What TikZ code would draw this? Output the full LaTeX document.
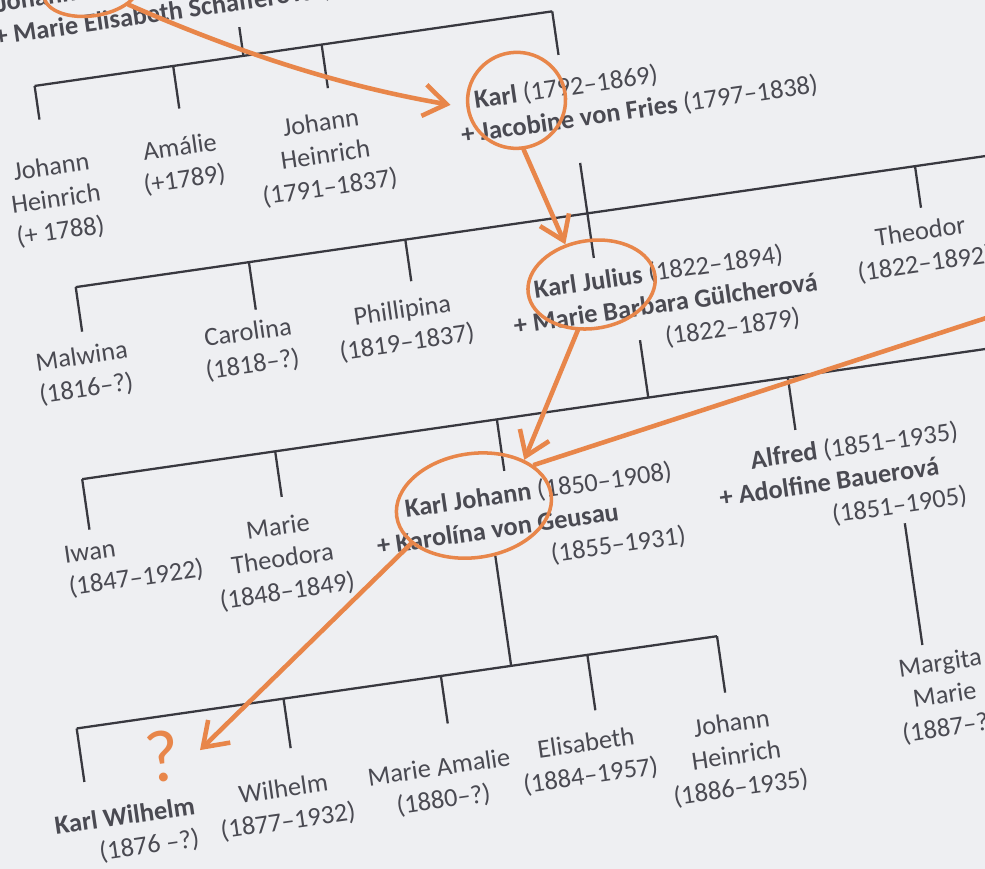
\documentclass[tikz,border=0pt]{standalone}
\usepackage{fontspec}
\setmainfont{Carlito}
\usetikzlibrary{positioning,shapes.geometric,arrows.meta}
\definecolor{paper}{HTML}{EEEFF2}
\definecolor{ink}{HTML}{4A4A52}
\definecolor{barink}{HTML}{38383F}
\definecolor{pen}{HTML}{E8864A}

\tikzset{
  kid/.style={font=\fontsize{15}{18.5}\selectfont, text=ink, align=center, inner sep=0pt, anchor=north},
  couple/.style={kid, align=left, anchor=north west},
  bar/.style={draw=barink, line width=1.3pt},
  loop/.style={ellipse, draw=pen, line width=2pt, inner sep=0pt},
  pencil/.style={draw=pen, line width=2.6pt, line cap=round, -{Straight Barb[length=13pt,width=18pt]}}
}

\begin{document}
\begin{tikzpicture}[x=0.02cm,y=-0.02cm]
\useasboundingbox (0,0) rectangle (985,869);
\fill[paper] (0,0) rectangle (985,869);
\clip (0,0) rectangle (985,869);
\begin{scope}[rotate=8.2, transform shape]
  % generation 1
  \node[couple] (parents) at (-11,-7) {\hspace*{0.16cm}\textbf{Johann Heinrich}\\\textbf{+ Marie Elisabeth Schäfferová} (};
  \node[kid] (jh1) at (27,162) {Johann\\Heinrich\\(+ 1788)};
  \node[kid] (amalie) at (157,161) {Amálie\\(+1789)};
  \node[kid] (jh2) at (300,157) {Johann\\Heinrich\\(1791–1837)};
  \node[couple] (karl) at (437,156) {\hspace*{0.36cm}\textbf{Karl} (1792–1869)\\\textbf{+ Jacobine von Fries} (1797–1838)};
  \coordinate (g1w) at (22,90);
  \coordinate (g1e) at (545,90);
  \coordinate (parents-out) at (233,61);
  \draw[bar] (g1w) -- (g1e);
  \draw[bar] (parents-out) -- (233,90);
  \foreach \n/\u/\d in {jh1/22/124,amalie/162/133,jh2/312/134,karl/545/134}{
    \coordinate (\n-in) at (\u,\d);
    \draw[bar] (\u,90) -- (\n-in);
  }

  % generation 2
  \node[kid] (malwina) at (30,354) {Malwina\\(1816–?)};
  \node[kid] (carolina) at (198,354) {Carolina\\(1818–?)};
  \node[kid] (phillipina) at (354,354) {Phillipina\\(1819–1837)};
  \node[couple] (karljulius) at (462,352) {\hspace*{0.5cm}\textbf{Karl Julius} (1822–1894)\\\textbf{+ Marie Barbara Gülcherová}\\\hspace*{2.96cm}(1822–1879)};
  \node[kid] (theodor) at (878,350) {Theodor\\(1822–1892)};
  \coordinate (g2w) at (34,295);
  \coordinate (g2e) at (1060,295);
  \coordinate (karl-out) at (551,244);
  \draw[bar] (g2w) -- (g2e);
  \draw[bar] (karl-out) -- (551,295);
  \foreach \n/\u/\d in {malwina/34/340,carolina/209/343,phillipina/367/337,karljulius/551/340,theodor/882/337}{
    \coordinate (\n-in) at (\u,\d);
    \draw[bar] (\u,295) -- (\n-in);
  }

  % generation 3
  \node[kid, align=left, anchor=north west] (iwan) at (-16,550) {Iwan\\(1847–1922)};
  \node[kid] (marietheo) at (200,551) {Marie\\Theodora\\(1848–1849)};
  \node[couple] (karljohann) at (295,551) {\hspace*{0.66cm}\textbf{Karl Johann} (1850–1908)\\\textbf{+ Karolína von Geusau}\\\hspace*{3.42cm}(1855–1931)};
  \node[couple] (alfred) at (641,552) {\hspace*{0.72cm}\textbf{Alfred} (1851–1935)\\\textbf{+ Adolfine Bauerová}\\\hspace*{2.18cm}(1851–1905)};
  \coordinate (g3w) at (13,486);
  \coordinate (g3e) at (1060,486);
  \coordinate (karljulius-out) at (585,428);
  \draw[bar] (g3w) -- (g3e);
  \draw[bar] (karljulius-out) -- (585,486);
  \foreach \n/\u/\d in {iwan/13/537,marietheo/208/532,karljohann/432/538,alfred/726/539}{
    \coordinate (\n-in) at (\u,\d);
    \draw[bar] (\u,486) -- (\n-in);
  }

  % generation 4
  \node[kid, align=right, anchor=north east] (karlwilhelm) at (78,815) {\textbf{Karl Wilhelm}\\(1876 –?)};
  \node[kid] (wilhelm) at (168,811) {Wilhelm\\(1877–1932)};
  \node[kid] (marieamalie) at (325,812) {Marie Amalie\\(1880–?)};
  \node[kid] (elisabeth) at (474,809) {Elisabeth\\(1884–1957)};
  \node[kid] (jh3) at (621,810) {Johann\\Heinrich\\(1886–1935)};
  \node[kid] (margita) at (836,780) {Margita\\Marie\\(1887–?)};
  \coordinate (g4w) at (-28,732);
  \coordinate (g4e) at (619,732);
  \coordinate (karljohann-out) at (411,621);
  \draw[bar] (g4w) -- (g4e);
  \draw[bar] (karljohann-out) -- (411,732);
  \foreach \n/\u/\d in {karlwilhelm/-28/786,wilhelm/181/782,marieamalie/340/780,elisabeth/488/788,jh3/619/789}{
    \coordinate (\n-in) at (\u,\d);
    \draw[bar] (\u,732) -- (\n-in);
  }
  \coordinate (alfred-out) at (821,647);
  \coordinate (margita-in) at (821,770);
  \draw[bar] (alfred-out) -- (margita-in);

  % orange marks
  \node[loop, minimum width=1.92cm, minimum height=1.04cm] (cJohann) at (92,3) {};
  \node[loop, minimum width=1.96cm, minimum height=1.92cm] (cKarl) at (497,173) {};
  \node[loop, minimum width=2.56cm, minimum height=1.76cm] (cKarlJulius) at (545,366) {};
  \node[loop, minimum width=3.12cm, minimum height=2.08cm] (cKarlJohann) at (397,568) {};
  \node[text=pen, font=\fontsize{42}{42}\selectfont, inner sep=0pt] (qmark) at (53,772) {?};
  \coordinate (qtip) at (91,771);
  \coordinate (offright) at (1049,435);
  \draw[pencil, shorten >=0.32cm] (cJohann.-30) .. controls (238,92) and (332,136) .. (cKarl.west);
  \draw[pencil] (cKarl.south) -- (cKarlJulius.115);
  \draw[pencil] (cKarlJulius.-115) -- (cKarlJohann.34);
  \draw[pencil] (cKarlJohann.203) -- (qtip);
  \draw[draw=pen, line width=2.6pt] (offright) -- (cKarlJohann.26);
\end{scope}
\end{tikzpicture}
\end{document}
